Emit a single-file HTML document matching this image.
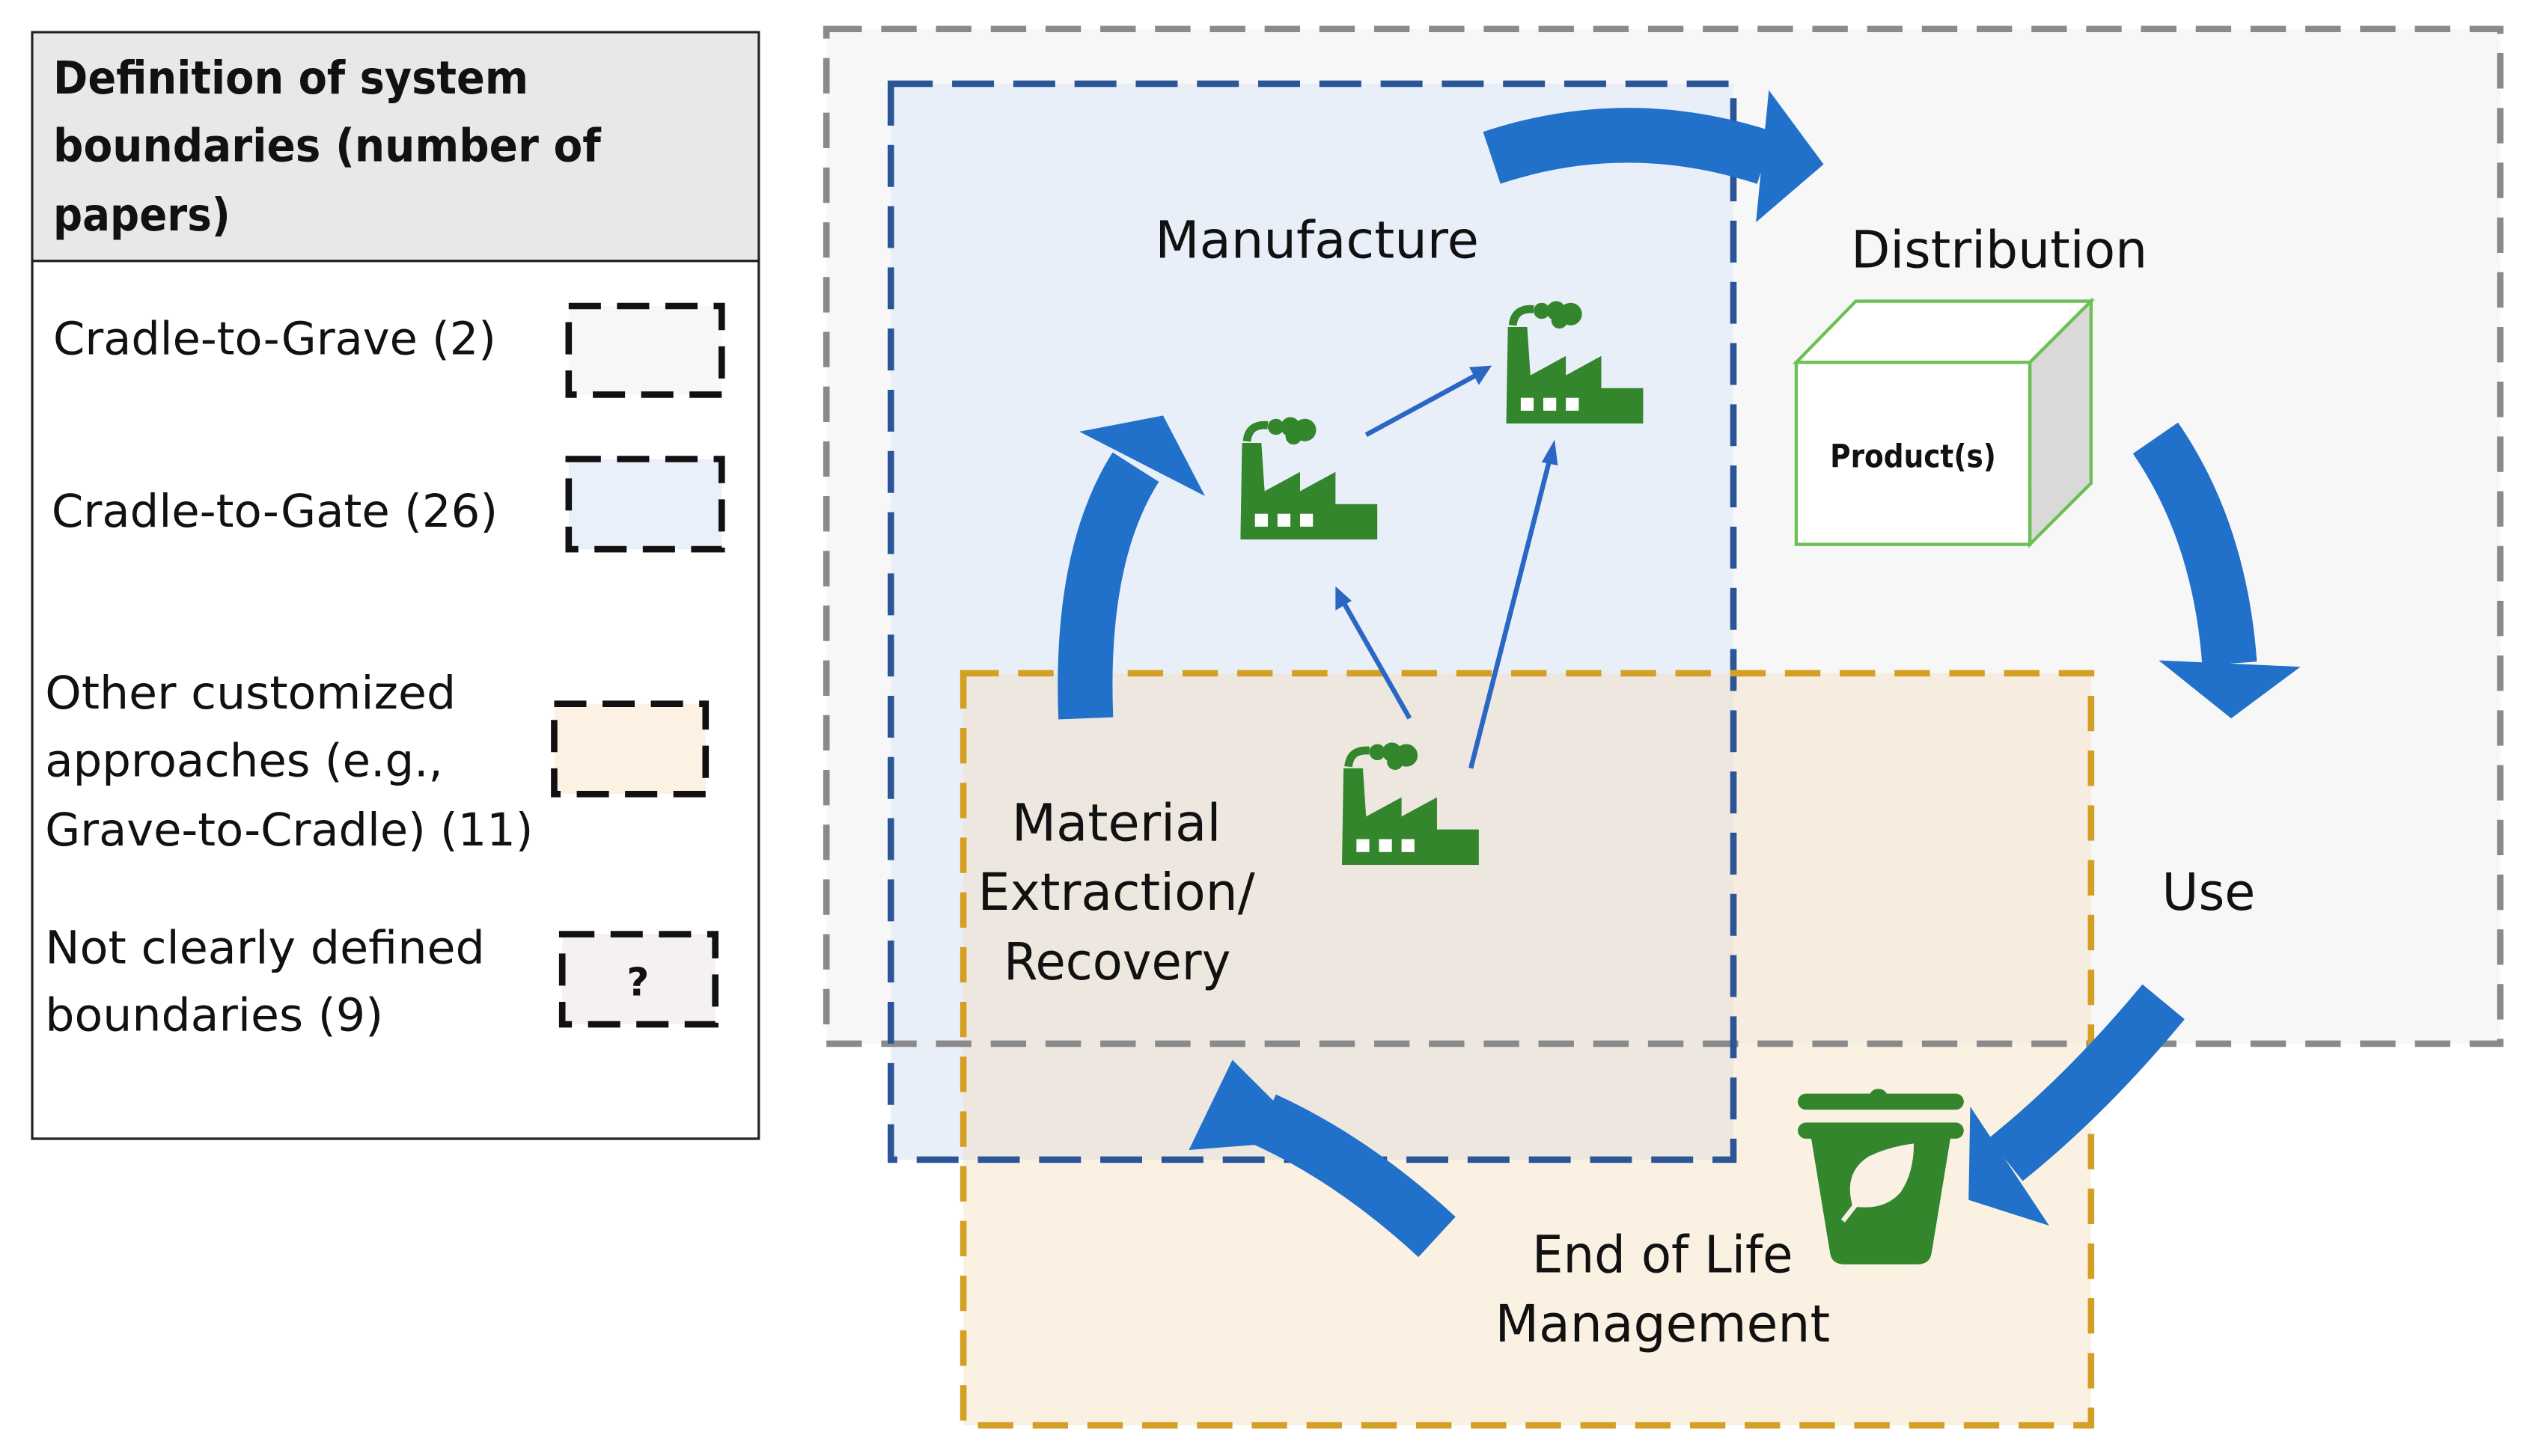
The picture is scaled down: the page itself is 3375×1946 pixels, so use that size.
<!DOCTYPE html>
<html><head><meta charset="utf-8"><style>
html,body{margin:0;padding:0;background:#fff;width:3375px;height:1946px;overflow:hidden}
svg{display:block}
text{font-family:"DejaVu Sans","Liberation Sans",sans-serif;fill:#111}
</style></head><body>
<svg width="3375" height="1946" viewBox="0 0 1568 904" preserveAspectRatio="none" xmlns="http://www.w3.org/2000/svg">
<defs>
<symbol id="fac" viewBox="0 0 85 77">
<path d="M1 17 L13 17 L15 47 L37 35 L37 47 L59 35 L59 55 L85 55 L85 77 L0 77 Z" fill="#33862b"/>
<rect x="9" y="61" width="8" height="8" fill="#fff"/><rect x="23" y="61" width="8" height="8" fill="#fff"/><rect x="37" y="61" width="8" height="8" fill="#fff"/>
<path d="M4 16 Q5 5 17 6" stroke="#33862b" stroke-width="5" fill="none"/>
<circle cx="22" cy="7" r="5" fill="#33862b"/><circle cx="31" cy="7" r="6" fill="#33862b"/><circle cx="40" cy="9" r="7" fill="#33862b"/><circle cx="33" cy="13" r="5" fill="#33862b"/>
</symbol>
</defs>
<!-- legend -->
<rect x="20" y="20" width="451" height="687" fill="#fff" stroke="#222" stroke-width="1.5"/>
<rect x="20.75" y="20.75" width="449.5" height="141" fill="#e9e7e8"/>
<line x1="20" y1="162" x2="471" y2="162" stroke="#222" stroke-width="1.5"/>
<g font-size="28" font-weight="bold">
<text x="33" y="58" textLength="295" lengthAdjust="spacingAndGlyphs">Definition of system</text>
<text x="33" y="100" textLength="340" lengthAdjust="spacingAndGlyphs">boundaries (number of</text>
<text x="33" y="143" textLength="110" lengthAdjust="spacingAndGlyphs">papers)</text>
</g>
<g font-size="28">
<text x="33" y="220" textLength="275" lengthAdjust="spacingAndGlyphs">Cradle-to-Grave (2)</text>
<text x="32" y="327" textLength="277" lengthAdjust="spacingAndGlyphs">Cradle-to-Gate (26)</text>
<text x="28" y="440" textLength="255" lengthAdjust="spacingAndGlyphs">Other customized</text>
<text x="28" y="482" textLength="247" lengthAdjust="spacingAndGlyphs">approaches (e.g.,</text>
<text x="28" y="525" textLength="303" lengthAdjust="spacingAndGlyphs">Grave-to-Cradle) (11)</text>
<text x="28" y="598" textLength="273" lengthAdjust="spacingAndGlyphs">Not clearly defined</text>
<text x="28" y="640" textLength="210" lengthAdjust="spacingAndGlyphs">boundaries (9)</text>
</g>
<rect x="353" y="190" width="95" height="55" fill="#f7f7f8" stroke="#111" stroke-width="4" stroke-dasharray="20 10"/>
<rect x="353" y="285" width="95" height="56" fill="#eaf0fa" stroke="#111" stroke-width="4" stroke-dasharray="20 10"/>
<rect x="344" y="437" width="94" height="56" fill="#fdf1e4" stroke="#111" stroke-width="4" stroke-dasharray="20 10"/>
<rect x="349" y="580" width="95" height="56" fill="#f5f0f2" stroke="#111" stroke-width="4" stroke-dasharray="20 10"/>
<text x="396" y="618" font-size="24" font-weight="bold" text-anchor="middle">?</text>
<!-- boundary fills -->
<rect x="513" y="18" width="1039" height="630" fill="#f7f7f8"/>
<rect x="553" y="52" width="523" height="668" fill="#e9eff9"/>
<rect x="598" y="418" width="700" height="467" fill="rgb(245,220,185)" fill-opacity="0.4"/>
<!-- borders -->
<rect x="513" y="18" width="1039" height="630" fill="none" stroke="#8a8a8a" stroke-width="4" stroke-dasharray="22 12"/>
<rect x="553" y="52" width="523" height="668" fill="none" stroke="#2a5596" stroke-width="4" stroke-dasharray="26 12"/>
<rect x="598" y="418" width="700" height="467" fill="none" stroke="#d4a024" stroke-width="4" stroke-dasharray="22 12"/>
<!-- big arrows -->
<g fill="none" stroke="#2170c9" stroke-width="34">
<path d="M926 98 Q1010 70 1096 98"/>
<path d="M1338 272 Q1378 330 1384 412"/>
<path d="M1343 622 Q1295 680 1245 720"/>
<path d="M892 768 Q840 720 785 695"/>
<path d="M674 446 Q670 345 705 290"/>
</g>
<g fill="#2170c9">
<polygon points="1098,56 1132,102 1090,138"/>
<polygon points="1340,410 1428,414 1385,446"/>
<polygon points="1223,687 1272,761 1222,745"/>
<polygon points="738,714 765,658 815,708"/>
<polygon points="670,268 722,258 748,308"/>
</g>
<!-- small arrows -->
<g stroke="#2a66c4" stroke-width="3" fill="#2a66c4">
<line x1="848" y1="270" x2="918" y2="232"/>
<polygon points="926,227 912,228 918,239" stroke="none"/>
<line x1="875" y1="446" x2="834" y2="374"/>
<polygon points="829,364 829,379 839,373" stroke="none"/>
<line x1="913" y1="477" x2="962" y2="285"/>
<polygon points="965,273 957,287 967,289" stroke="none"/>
</g>
<!-- factories -->
<use href="#fac" x="770" y="258" width="85" height="77"/>
<use href="#fac" x="935" y="186" width="85" height="77"/>
<use href="#fac" x="833" y="460" width="85" height="77"/>
<!-- cube -->
<g stroke="#6cbf52" stroke-width="2">
<polygon points="1115,225 1152,187 1298,187 1260,225" fill="#fff"/>
<polygon points="1260,225 1298,187 1298,300 1260,338" fill="#d9d9d9"/>
<rect x="1115" y="225" width="145" height="113" fill="#fff"/>
</g>
<text x="1136" y="290" font-size="20" font-weight="bold" textLength="103" lengthAdjust="spacingAndGlyphs">Product(s)</text>
<!-- trash -->
<g fill="#33862b">
<circle cx="1166" cy="682" r="6"/>
<rect x="1116" y="679" width="103" height="10" rx="5"/>
<rect x="1116" y="697" width="103" height="10" rx="5"/>
<path d="M1124 705 L1211 705 L1199 778 Q1198 785 1190 785 L1145 785 Q1137 785 1136 778 Z"/>
</g>
<path d="M1150 749 Q1144 728 1160 718 Q1172 712 1188 710 Q1188 728 1180 740 Q1170 752 1150 749 Z" fill="#faf0e4"/>
<line x1="1144" y1="758" x2="1166" y2="730" stroke="#faf0e4" stroke-width="3"/>
<!-- labels -->
<g font-size="32">
<text x="717" y="160" textLength="201" lengthAdjust="spacingAndGlyphs">Manufacture</text>
<text x="1149" y="166" textLength="184" lengthAdjust="spacingAndGlyphs">Distribution</text>
<text x="1342" y="565" textLength="58" lengthAdjust="spacingAndGlyphs">Use</text>
<text x="628" y="522" textLength="130" lengthAdjust="spacingAndGlyphs">Material</text>
<text x="607" y="565" textLength="172" lengthAdjust="spacingAndGlyphs">Extraction/</text>
<text x="623" y="608" textLength="141" lengthAdjust="spacingAndGlyphs">Recovery</text>
<text x="951" y="790" textLength="162" lengthAdjust="spacingAndGlyphs">End of Life</text>
<text x="928" y="833" textLength="208" lengthAdjust="spacingAndGlyphs">Management</text>
</g>
</svg>
</body></html>
